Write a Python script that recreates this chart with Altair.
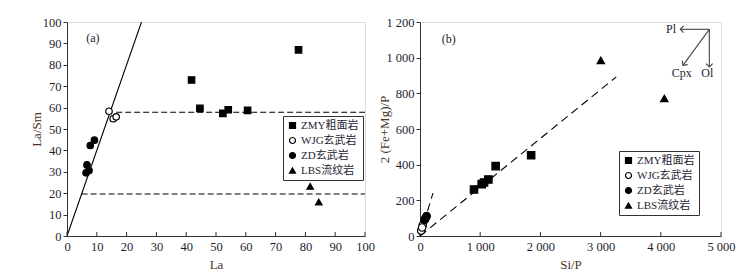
import math
import altair as alt
import pandas as pd

# ---------------- data ----------------
groups = ["ZMY粗面岩", "WJG玄武岩", "ZD玄武岩", "LBS流纹岩"]
shapes = ["square", "circle", "circle", "triangle-up"]
fills = ["black", "white", "black", "black"]

# panel (a): La vs La/Sm
zmy_la = [41.8, 44.6, 52.3, 54.1, 60.6, 77.7]
zmy_lasm = [72.9, 59.6, 57.3, 59.0, 58.7, 87.0]
wjg_la = [14.1, 15.5, 16.5]
wjg_lasm = [58.3, 54.8, 55.7]
zd_la = [6.4, 7.4, 6.7, 7.8, 9.2]
zd_lasm = [29.5, 30.6, 33.2, 42.3, 44.8]
lbs_la = [81.6, 84.5]
lbs_lasm = [23.2, 15.9]

# panel (b): Si/P vs 2(Fe+Mg)/P
zmy_sip = [897, 1025, 1064, 1136, 1257, 1846]
zmy_femg = [261, 291, 300, 317, 392, 453]
wjg_sip = [20, 45, 35]
wjg_femg = [30, 62, 48]
zd_sip = [75, 90, 105, 85, 110]
zd_femg = [90, 100, 108, 95, 112]
lbs_sip = [3004, 4058]
lbs_femg = [985, 771]

# reference lines
a_solid_x = [0, 25]
a_solid_y = [0, 100]
a_dash_x1 = [16.5, 4.9]
a_dash_x2 = [100, 100]
a_dash_y = [57.8, 19.6]

b_dash_x1 = [0, 0]
b_dash_y1 = [0, 0]
b_dash_x2 = [3260, 215]
b_dash_y2 = [892, 240]

# arrows in panel (b)
arr_x0, arr_y0 = 4806, 1159
arr_names = ["Pl", "Cpx", "Ol"]
arr_x = [4324, 4368, 4806]
arr_y = [1159, 957, 948]
arr_lab_x = [4270, 4348, 4773]
arr_lab_y = [1159, 916, 916]
arr_lab_align = ["right", "center", "center"]

a_ticks = list(range(0, 101, 10))
b_xticks = list(range(0, 5001, 1000))
b_yticks = list(range(0, 1201, 200))

W1, H1 = 298, 214
W2, H2 = 301, 214

FONT = "Liberation Serif, Noto Sans CJK SC"
TICKC = "#1e1e32"
TITLEC = "#4a3428"


def pts(xs_list, ys_list):
    rows = []
    for g, xs, ys in zip(groups, xs_list, ys_list):
        for x, y in zip(xs, ys):
            rows.append({"g": g, "x": x, "y": y})
    return pd.DataFrame(rows)


df_a = pts([zmy_la, wjg_la, zd_la, lbs_la], [zmy_lasm, wjg_lasm, zd_lasm, lbs_lasm])
df_b = pts([zmy_sip, wjg_sip, zd_sip, lbs_sip], [zmy_femg, wjg_femg, zd_femg, lbs_femg])


def axis_common(**kw):
    base = dict(grid=False, labelFont=FONT, labelFontSize=12.5, labelColor=TICKC,
                titleFont=FONT, titleFontSize=13, titleColor=TITLEC, titleFontWeight="normal",
                domainColor="#333", tickColor="#333", tickSize=4, labelPadding=2,
                labelOverlap=False, labelFlush=False)
    base.update(kw)
    return alt.Axis(**base)


class Panel:
    def __init__(self, xs, ys, W, H, xtitle, ytitle, fmt, xticks, yticks, ytx):
        self.xscale = alt.Scale(domain=xs, nice=False, zero=False)
        self.yscale = alt.Scale(domain=ys, nice=False, zero=False)
        self.xaxis = axis_common(values=xticks, title=xtitle, ticks=False, labelExpr=fmt,
                                 titleX=W / 2, titleY=28, titleBaseline="middle", labelPadding=4)
        self.yaxis = axis_common(values=yticks, title=ytitle, labelExpr=fmt,
                                 titleX=ytx, titleY=H / 2, titleBaseline="middle", titleAngle=270)
        self.W, self.H, self.xticks = W, H, xticks

    def X(self, f):
        return alt.X(f"{f}:Q", scale=self.xscale, axis=self.xaxis)

    def Y(self, f):
        return alt.Y(f"{f}:Q", scale=self.yscale, axis=self.yaxis)

    def points(self, df, lx, ly, size):
        legend = alt.Legend(title=None, orient="none", legendX=lx, legendY=ly,
                            strokeColor="#333", padding=4, labelFont=FONT, labelFontSize=11,
                            labelColor=TICKC, symbolSize=36, rowPadding=3,
                            symbolStrokeWidth=1.2, labelOffset=3)
        return alt.Chart(df).mark_point(filled=False, strokeWidth=1.2, size=size, opacity=1).encode(
            x=self.X("x"), y=self.Y("y"),
            shape=alt.Shape("g:N", scale=alt.Scale(domain=groups, range=shapes), legend=legend),
            fill=alt.Fill("g:N", scale=alt.Scale(domain=groups, range=fills), legend=legend),
            stroke=alt.Stroke("g:N", scale=alt.Scale(domain=groups, range=["black"] * 4), legend=legend),
        )

    def ticks(self):
        return alt.Chart(pd.DataFrame({"t": self.xticks})).mark_rule(color="#333", strokeWidth=1).encode(
            x=self.X("t"), y=alt.value(self.H), y2=alt.value(self.H - 4))

    def label(self, x, y, t):
        return alt.Chart(pd.DataFrame({"x": [x], "y": [y], "t": [t]})).mark_text(
            font=FONT, fontSize=12, color=TICKC).encode(x=self.X("x"), y=self.Y("y"), text="t:N")


fmt_space = "replace(format(datum.value, ','), ',', ' ')"

# ---------- panel a ----------
A = Panel([0, 100], [0, 100], W1, H1, "La", "La/Sm", "datum.label", a_ticks, a_ticks, -31)
solid = alt.Chart(pd.DataFrame({"x": a_solid_x, "y": a_solid_y})).mark_line(
    color="black", strokeWidth=1.1, clip=True).encode(x=A.X("x"), y=A.Y("y"))
dash_a = alt.Chart(pd.DataFrame({"x": a_dash_x1, "x2": a_dash_x2, "y": a_dash_y})).mark_rule(
    color="black", strokeWidth=1.1, strokeDash=[6, 3]).encode(x=A.X("x"), x2="x2:Q", y=A.Y("y"))
chart_a = alt.layer(solid, dash_a, A.label(8.7, 92.5, "(a)"), A.ticks(),
                    A.points(df_a, 216, 94, 42)).properties(width=W1, height=H1)

# ---------- panel b ----------
B = Panel([0, 5000], [0, 1200], W2, H2, "Si/P", "2 (Fe+Mg)/P", fmt_space, b_xticks, b_yticks, -35.5)
dash_b = alt.Chart(pd.DataFrame({"x": b_dash_x1, "y": b_dash_y1, "x2": b_dash_x2, "y2": b_dash_y2})).mark_rule(
    color="black", strokeWidth=1.1, strokeDash=[8, 5]).encode(x=B.X("x"), y=B.Y("y"), x2="x2:Q", y2="y2:Q")
sx, sy = W2 / 5000, H2 / 1200
angs = [math.degrees(math.atan2(-(y - arr_y0) * sy, (x - arr_x0) * sx)) % 360 for x, y in zip(arr_x, arr_y)]
df_arr = pd.DataFrame({"x0": [arr_x0] * 3, "y0": [arr_y0] * 3, "x": arr_x, "y": arr_y, "a": angs,
                       "n": arr_names, "lx": arr_lab_x, "ly": arr_lab_y, "al": arr_lab_align})
shafts = alt.Chart(df_arr).mark_rule(color="#444", strokeWidth=1.1).encode(
    x=B.X("x0"), y=B.Y("y0"), x2="x:Q", y2="y:Q")
heads = alt.Chart(df_arr).mark_point(shape="M-1,-1L0,0L-1,1", filled=False, stroke="#444",
                                      strokeWidth=1.1, size=45, opacity=1).encode(
    x=B.X("x"), y=B.Y("y"), angle=alt.Angle("a:Q", scale=None))
lab_arr_r = alt.Chart(df_arr[df_arr.al == "right"]).mark_text(
    font=FONT, fontSize=12, color=TICKC, align="right", dx=-1).encode(x=B.X("lx"), y=B.Y("ly"), text="n:N")
lab_arr_c = alt.Chart(df_arr[df_arr.al == "center"]).mark_text(
    font=FONT, fontSize=12, color=TICKC, align="center").encode(x=B.X("lx"), y=B.Y("ly"), text="n:N")
chart_b = alt.layer(dash_b, shafts, heads, lab_arr_r, lab_arr_c, B.label(477, 1105, "(b)"), B.ticks(),
                    B.points(df_b, 199, 129, 55)).properties(width=W2, height=H2)

chart = alt.hconcat(chart_a, chart_b, spacing=3).resolve_scale(
    shape="independent", fill="independent", stroke="independent").properties(
    padding={"left": 21, "top": 7, "right": 5, "bottom": 5}
).configure_view(stroke="#333", strokeWidth=1.2).configure(background="white")

chart.save("out.html", embed_options={"renderer": "svg", "actions": False})
